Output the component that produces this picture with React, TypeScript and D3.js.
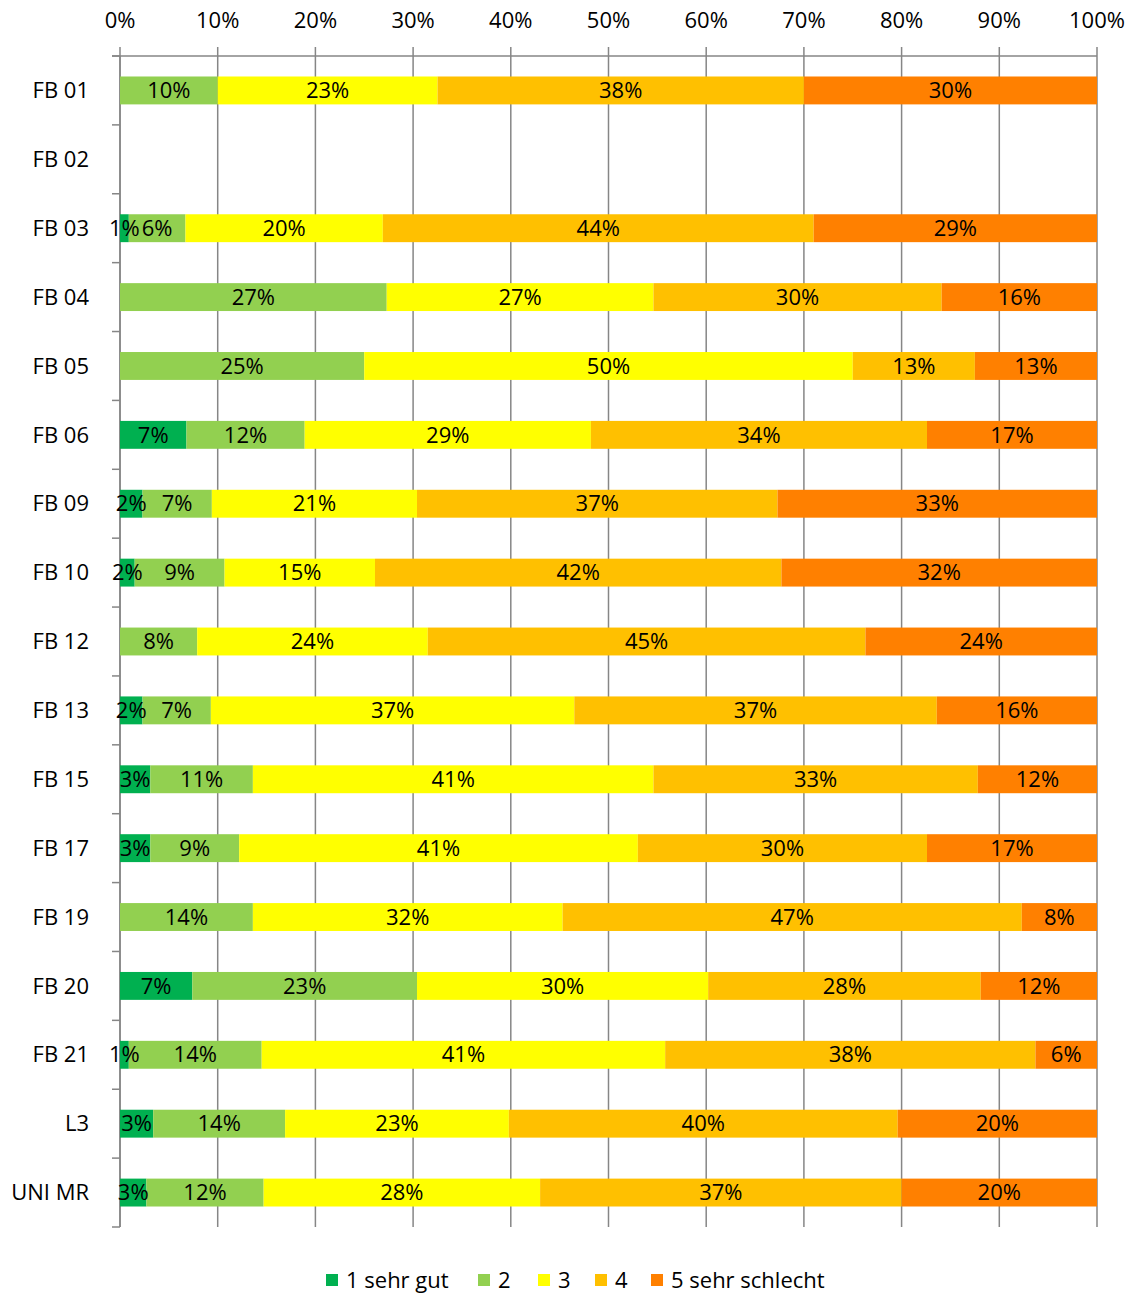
import React, { useRef, useEffect } from "react";
import * as d3 from "d3";

// categories, top to bottom
const categories = [
  "FB 01", "FB 02", "FB 03", "FB 04", "FB 05", "FB 06", "FB 09", "FB 10", "FB 12",
  "FB 13", "FB 15", "FB 17", "FB 19", "FB 20", "FB 21", "L3", "UNI MR",
];

const seriesNames = ["1 sehr gut", "2", "3", "4", "5 sehr schlecht"];
const seriesColors = ["#00B050", "#92D050", "#FFFF00", "#FFC000", "#FF8000"];

// shares in percent, one array per grade
const grade1 = [0, 0, 0.9, 0, 0, 6.8, 2.3, 1.5, 0, 2.3, 3.1, 3.1, 0, 7.4, 0.9, 3.4, 2.7];
const grade2 = [10, 0, 5.8, 27.3, 25, 12.1, 7.1, 9.2, 7.9, 7.0, 10.5, 9.1, 13.6, 23.0, 13.6, 13.5, 12.0];
const grade3 = [22.5, 0, 20.2, 27.3, 50, 29.3, 21.0, 15.4, 23.6, 37.2, 41.0, 40.8, 31.7, 29.8, 41.3, 22.9, 28.3];
const grade4 = [37.5, 0, 44.1, 29.5, 12.5, 34.4, 36.9, 41.6, 44.8, 37.1, 33.2, 29.6, 47.0, 27.9, 37.9, 39.8, 37.0];
const grade5 = [30, 0, 29.0, 15.9, 12.5, 17.4, 32.7, 32.3, 23.7, 16.4, 12.2, 17.4, 7.7, 11.9, 6.3, 20.4, 20.0];

const tickValues = [0, 10, 20, 30, 40, 50, 60, 70, 80, 90, 100];

const FONT = "'Open Sans', 'Noto Sans', sans-serif";
const FS = "22px";

const App = () => {
  const ref = useRef(null);
  const width = 1135;
  const height = 1293;

  useEffect(() => {
    if (!ref.current) return;
    const svg = d3.select(ref.current);
    svg.selectAll("*").remove();

    const margin = { left: 120, right: 38, top: 56, bottom: 66 };
    const w = width - margin.left - margin.right;
    const h = height - margin.top - margin.bottom;

    const rows = categories.map((c, i) => ({
      cat: c,
      vals: [grade1[i], grade2[i], grade3[i], grade4[i], grade5[i]],
    }));

    const x = d3.scaleLinear().domain([0, 100]).range([0, w]);
    const y = d3.scaleBand().domain(categories).range([0, h]).paddingInner(0.595).paddingOuter(0.2975);

    const g = svg.append("g").attr("transform", `translate(${margin.left},${margin.top})`);

    // vertical gridlines
    g.selectAll(".grid")
      .data(tickValues)
      .enter()
      .append("line")
      .attr("x1", (d) => x(d))
      .attr("x2", (d) => x(d))
      .attr("y1", -9)
      .attr("y2", h)
      .attr("stroke", "#868686")
      .attr("stroke-width", 1.5);

    // top axis line
    g.append("line")
      .attr("x1", -8)
      .attr("x2", w)
      .attr("y1", 0)
      .attr("y2", 0)
      .attr("stroke", "#868686")
      .attr("stroke-width", 1.5);

    // left axis + category ticks
    const band = h / categories.length;
    g.append("line")
      .attr("x1", 0).attr("x2", 0).attr("y1", 0).attr("y2", h)
      .attr("stroke", "#868686").attr("stroke-width", 1.5);
    g.selectAll(".ytick")
      .data(d3.range(categories.length + 1))
      .enter()
      .append("line")
      .attr("x1", -8).attr("x2", 0)
      .attr("y1", (d) => d * band).attr("y2", (d) => d * band)
      .attr("stroke", "#868686").attr("stroke-width", 1.5);

    // tick labels
    g.selectAll(".xlab")
      .data(tickValues)
      .enter()
      .append("text")
      .attr("x", (d) => x(d))
      .attr("y", -28)
      .attr("text-anchor", "middle")
      .style("font-family", FONT)
      .style("font-size", FS)
      .text((d) => d + "%");

    g.selectAll(".ylab")
      .data(categories)
      .enter()
      .append("text")
      .attr("x", -31)
      .attr("y", (d) => y(d) + y.bandwidth() / 2)
      .attr("dy", "0.35em")
      .attr("text-anchor", "end")
      .style("font-family", FONT)
      .style("font-size", FS)
      .text((d) => d);

    // stacked bars
    const segs = [];
    rows.forEach((r) => {
      let acc = 0;
      r.vals.forEach((v, k) => {
        segs.push({ cat: r.cat, k, x0: acc, x1: acc + v, v });
        acc += v;
      });
    });
    const shown = segs.filter((s) => s.v > 0);

    g.selectAll(".seg")
      .data(shown)
      .enter()
      .append("rect")
      .attr("x", (d) => x(d.x0))
      .attr("y", (d) => y(d.cat))
      .attr("width", (d) => x(d.x1) - x(d.x0))
      .attr("height", y.bandwidth())
      .attr("fill", (d) => seriesColors[d.k]);

    g.selectAll(".lab")
      .data(shown)
      .enter()
      .append("text")
      .attr("x", (d) => x((d.x0 + d.x1) / 2))
      .attr("y", (d) => y(d.cat) + y.bandwidth() / 2)
      .attr("dy", "0.35em")
      .attr("text-anchor", "middle")
      .style("font-family", FONT)
      .style("font-size", FS)
      .text((d) => Math.round(d.v) + "%");

    // legend
    const legendX = [326, 478, 538, 595, 651];
    const lg = svg.append("g");
    seriesNames.forEach((name, k) => {
      lg.append("rect")
        .attr("x", legendX[k]).attr("y", 1274)
        .attr("width", 12).attr("height", 12)
        .attr("fill", seriesColors[k]);
      lg.append("text")
        .attr("x", legendX[k] + 20).attr("y", 1288)
        .style("font-family", FONT)
        .style("font-size", FS)
        .text(name);
    });
  }, []);

  return (
    <svg
      ref={ref}
      width={width}
      height={height}
      style={{ position: "absolute", left: 0, top: 0, background: "#fff" }}
    />
  );
};

export default App;
